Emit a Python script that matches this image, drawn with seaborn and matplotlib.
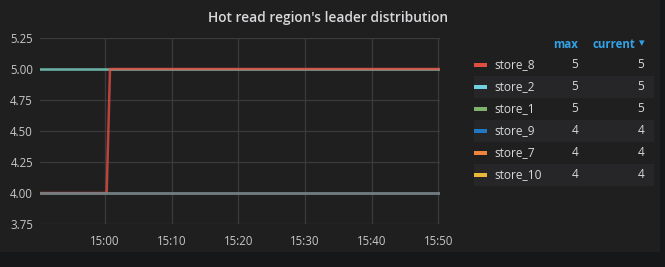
import matplotlib
matplotlib.use("Agg")
import matplotlib.pyplot as plt
import seaborn as sns
import pandas as pd
from matplotlib.patches import Rectangle

# ---- data (change points) ----
stores = ["store_8", "store_2", "store_1", "store_9", "store_7", "store_10"]
colors = ["#E24D42", "#6ED0E0", "#7EB26D", "#1F78C1", "#EF843C", "#EAB839"]
store_8_times = ["14:50:15", "15:00:15", "15:00:45", "15:50:15"]
store_8_values = [4, 4, 5, 5]
store_2_times = ["14:50:15", "15:50:15"]
store_2_values = [5, 5]
store_1_times = ["14:50:15", "15:50:15"]
store_1_values = [5, 5]
store_9_times = ["14:50:15", "15:50:15"]
store_9_values = [4, 4]
store_7_times = ["14:50:15", "15:50:15"]
store_7_values = [4, 4]
store_10_times = ["14:50:15", "15:50:15"]
store_10_values = [4, 4]
y_ticks = [3.75, 4.00, 4.25, 4.50, 4.75, 5.00, 5.25]
x_ticks = ["15:00", "15:10", "15:20", "15:30", "15:40", "15:50"]
title = "Hot read region's leader distribution"

series = {
    "store_8": (store_8_times, store_8_values),
    "store_2": (store_2_times, store_2_values),
    "store_1": (store_1_times, store_1_values),
    "store_9": (store_9_times, store_9_values),
    "store_7": (store_7_times, store_7_values),
    "store_10": (store_10_times, store_10_values),
}
rows = []
for s in stores:
    t, v = series[s]
    for ti, vi in zip(t, v):
        rows.append({"time": pd.Timestamp("2020-01-01 " + ti), "value": vi, "store": s})
df = pd.DataFrame(rows)
palette = dict(zip(stores, colors))

PAGE = "#161719"
PANEL = "#1f1f20"
TEXT = "#d8d9da"
TICK = "#c7c7c7"
GRID = "#3b3b3d"
BLUE = "#33a2e5"

sns.set_theme(style="dark")
plt.rcParams["font.family"] = ["Open Sans", "DejaVu Sans"]

fig = plt.figure(figsize=(6.65, 2.67), dpi=100, facecolor=PANEL)
W, H = 665, 267
# darker page strips at the bottom and right of the panel
fig.patches.append(Rectangle((0, 0), 1, 15 / H, transform=fig.transFigure,
                             facecolor=PAGE, edgecolor="none", zorder=-10))
fig.patches.append(Rectangle((660 / W, 0), 5 / W, 1, transform=fig.transFigure,
                             facecolor=PAGE, edgecolor="none", zorder=-10))

ax = fig.add_axes([40 / W, 1 - 224 / H, 400 / W, 186 / H])
ax.set_facecolor(PANEL)

draw_order = ["store_1", "store_2", "store_8", "store_10", "store_7", "store_9"]
for s in draw_order:
    sns.lineplot(data=df[df["store"] == s], x="time", y="value", color=palette[s],
                 ax=ax, linewidth=1.8, alpha=0.8 if s == "store_8" else 0.6,
                 legend=False, estimator=None)

ax.set_ylim(3.75, 5.25)
ax.set_yticks(y_ticks)
ax.set_yticklabels([f"{v:.2f}" for v in y_ticks])
xt = [pd.Timestamp("2020-01-01 " + x + ":00") for x in x_ticks]
ax.set_xticks(xt)
ax.set_xticklabels(x_ticks)
ax.set_xlim(pd.Timestamp("2020-01-01 14:50:15"), pd.Timestamp("2020-01-01 15:50:15"))
ax.grid(True, color=GRID, linewidth=0.9)
ax.set_axisbelow(True)
for sp in ax.spines.values():
    sp.set_visible(False)
ax.tick_params(axis="both", colors=TICK, labelsize=8.3, length=0, pad=5)
ax.tick_params(axis="x", pad=8)
ax.set_xlabel("")
ax.set_ylabel("")

fig.text(328 / W, 1 - 18 / H, title, ha="center", va="center", color=TEXT,
         fontsize=9.9, fontweight="semibold")

# legend table
fig.text(578 / W, 1 - 44 / H, "max", ha="right", va="center", color=BLUE,
         fontsize=8.3, fontweight="bold")
fig.text(635 / W, 1 - 44 / H, "current", ha="right", va="center", color=BLUE,
         fontsize=8.3, fontweight="bold")
fig.text(645 / W, 1 - 43 / H, "\u25BE", ha="right", va="center", color=BLUE,
         fontsize=8, family="DejaVu Sans")
row_y = [65, 87, 109, 131, 153, 175]
for i, s in enumerate(stores):
    y = row_y[i]
    if i % 2 == 1:
        fig.patches.append(Rectangle((474 / W, 1 - (y + 11) / H), 180 / W, 22 / H,
                                     transform=fig.transFigure, facecolor="#262628",
                                     edgecolor="none", zorder=-5))
    fig.patches.append(Rectangle((474 / W, 1 - (y + 1.5) / H), 13 / W, 3.5 / H,
                                 transform=fig.transFigure, facecolor=palette[s],
                                 edgecolor="none", zorder=1))
    t, v = series[s]
    fig.text(494 / W, 1 - y / H, s, ha="left", va="center", color=TEXT, fontsize=8.6)
    fig.text(578 / W, 1 - y / H, f"{max(v):g}", ha="right", va="center", color=TEXT, fontsize=8.6)
    fig.text(644 / W, 1 - y / H, f"{v[-1]:g}", ha="right", va="center", color=TEXT, fontsize=8.6)

fig.savefig("out.png", dpi=100, facecolor=PANEL)
